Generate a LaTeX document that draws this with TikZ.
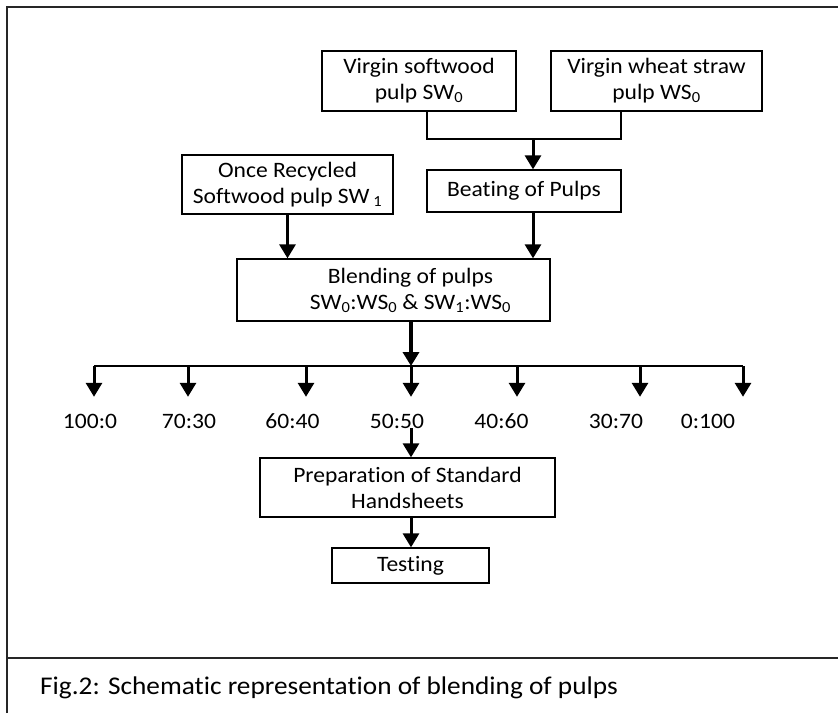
\documentclass[tikz,border=0pt]{standalone}
\usepackage{fontspec}
\setmainfont{Carlito}[FakeStretch=1.07,Ligatures={NoCommon,NoRare,NoContextual}]
\usetikzlibrary{arrows.meta}
\newcommand{\sbs}[1]{\textsubscript{#1}}
\begin{document}
\begin{tikzpicture}[x=1pt,y=-1pt,
  box/.style={draw=black, line width=1.3pt, align=center, inner sep=0pt,
              font=\fontsize{22}{26}\selectfont},
  arr/.style={line width=3pt, -{Triangle[width=16pt,length=14pt]}},
  ln/.style={line width=1.3pt},
  frame/.style={line width=2pt, draw=black!85},
  lbl/.style={inner sep=0pt, font=\fontsize{22}{26}\selectfont,
              text height=13pt, text depth=0pt, anchor=base}]
\useasboundingbox (0,0) rectangle (838,713);
% frame
\draw[frame] (7,713) -- (7,7) -- (838,7);
\draw[frame] (7,658) -- (838,658);
\node[anchor=base west, inner sep=0pt, font=\fontsize{25.5}{30}\selectfont] (cap) at (40,694)
  {Fig.2: Schematic representation of blending of pulps};
% boxes
\node[box, minimum width=194pt, minimum height=60pt] (sw0) at (419,81)
  {Virgin softwood\\pulp SW\sbs{0}};
\node[box, minimum width=211pt, minimum height=60pt] (ws0) at (656.5,81)
  {Virgin wheat straw\\pulp WS\sbs{0}};
\node[box, minimum width=194pt, minimum height=42pt] (beat) at (524,191)
  {Beating of Pulps};
\node[box, minimum width=211pt, minimum height=59pt] (sw1) at (287.5,184.5)
  {Once Recycled\\Softwood pulp SW\,\sbs{1}};
\node[box, minimum width=313pt, minimum height=62pt] (blend) at (393.5,290)
  {\hspace*{34pt}Blending of pulps\\\hspace*{34pt}SW\sbs{0}:WS\sbs{0} \& SW\sbs{1}:WS\sbs{0}};
\node[box, minimum width=295pt, minimum height=59pt] (prep) at (407.5,487.5)
  {Preparation of Standard\\Handsheets};
\node[box, minimum width=157pt, minimum height=35pt] (test) at (410.5,565.5)
  {Testing};
% ratio labels
\node[lbl] (r1) at (90,428) {100:0};
\node[lbl] (r2) at (189,428) {70:30};
\node[lbl] (r3) at (292.5,428) {60:40};
\node[lbl] (r4) at (397,428) {50:50};
\node[lbl] (r5) at (501.5,428) {40:60};
\node[lbl] (r6) at (616,428) {30:70};
\node[lbl] (r7) at (708,428) {0:100};
% top bracket
\coordinate (j1) at (427,139);
\coordinate (j2) at (621,139);
\coordinate (jm) at (533,138);
\draw[ln] (sw0.south -| j1) -- (j1) -- (j2) -- (ws0.south -| j2);
\draw[arr] (jm) -- (beat.north -| jm);
\draw[arr] (sw1.south) -- (sw1.south |- blend.north);
\draw[arr] (beat.south -| jm) -- (blend.north -| jm);
% distribution bar
\coordinate (b1) at (94,366);
\coordinate (b2) at (188,366);
\coordinate (b3) at (306,366);
\coordinate (b4) at (411,366);
\coordinate (b5) at (517,366);
\coordinate (b6) at (640,366);
\coordinate (b7) at (743,366);
\draw[arr, line width=4pt] (blend.south -| b4) -- (b4);
\draw[line width=1.7pt] (b1) -- (b7);
\foreach \i in {1,...,7}{
  \draw[arr, shorten >=18pt] (b\i) -- (b\i |- r\i.north);
}
\draw[arr] (r4.south -| b4) -- (prep.north -| b4);
\draw[arr] (prep.south -| b4) -- (test.north -| b4);
\end{tikzpicture}
\end{document}
